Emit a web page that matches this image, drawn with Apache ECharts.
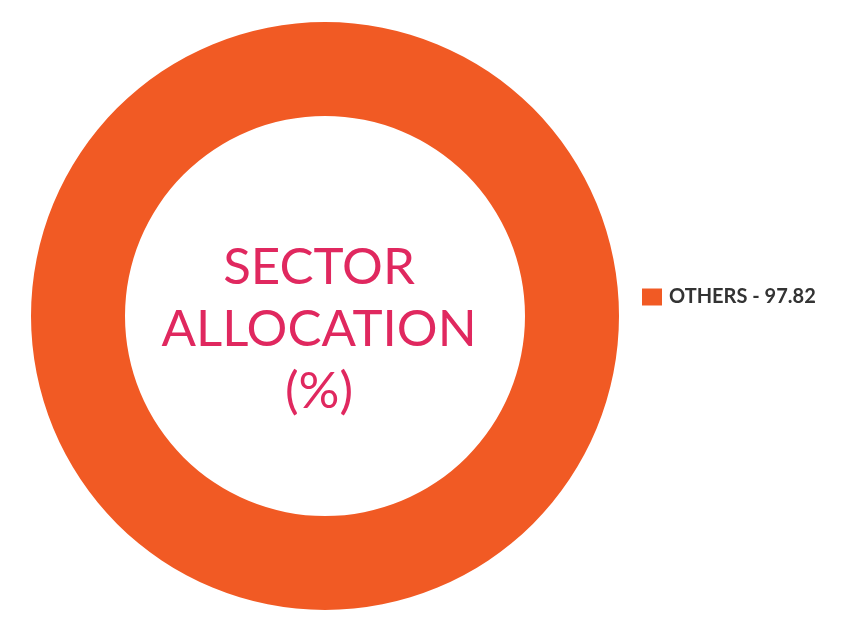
<!DOCTYPE html>
<html><head><meta charset="utf-8">
<script src="https://cdn.jsdelivr.net/npm/echarts@6/dist/echarts.min.js"></script>
<style>html,body{margin:0;padding:0;background:#fff}#c{width:844px;height:639px}</style>
</head><body><div id="c"></div>
<script>
const categories = ['OTHERS'];
const values = [97.82];
const centerLines = ['SECTOR', 'ALLOCATION', '(%)'];

const chart = echarts.init(document.getElementById('c'), null, {renderer: 'canvas'});
chart.setOption({
  animation: false,
  backgroundColor: '#ffffff',
  color: ['#F15A24'],
  legend: {
    orient: 'vertical',
    left: 637, top: 282,
    itemWidth: 20, itemHeight: 17, itemGap: 10,
    icon: 'rect',
    data: categories,
    formatter: function (name) {
      const i = categories.indexOf(name);
      return name + ' - ' + values[i];
    },
    textStyle: {fontFamily: 'Lato', fontWeight: 'bold', fontSize: 20, color: '#333333', padding: [0, 0, 0, 2]}
  },
  graphic: [{
    type: 'text',
    x: 319, y: 330,
    z: 100,
    style: {
      text: centerLines.join('\n'),
      x: 0, y: 0,
      align: 'center', verticalAlign: 'middle',
      font: '51px Lato', lineHeight: 62,
      fill: '#E0285F'
    }
  }],
  series: [{
    type: 'pie',
    center: [325, 316],
    radius: [200, 294],
    silent: true,
    label: {show: false},
    labelLine: {show: false},
    data: categories.map((c, i) => ({name: c, value: values[i]}))
  }]
});
</script></body></html>
